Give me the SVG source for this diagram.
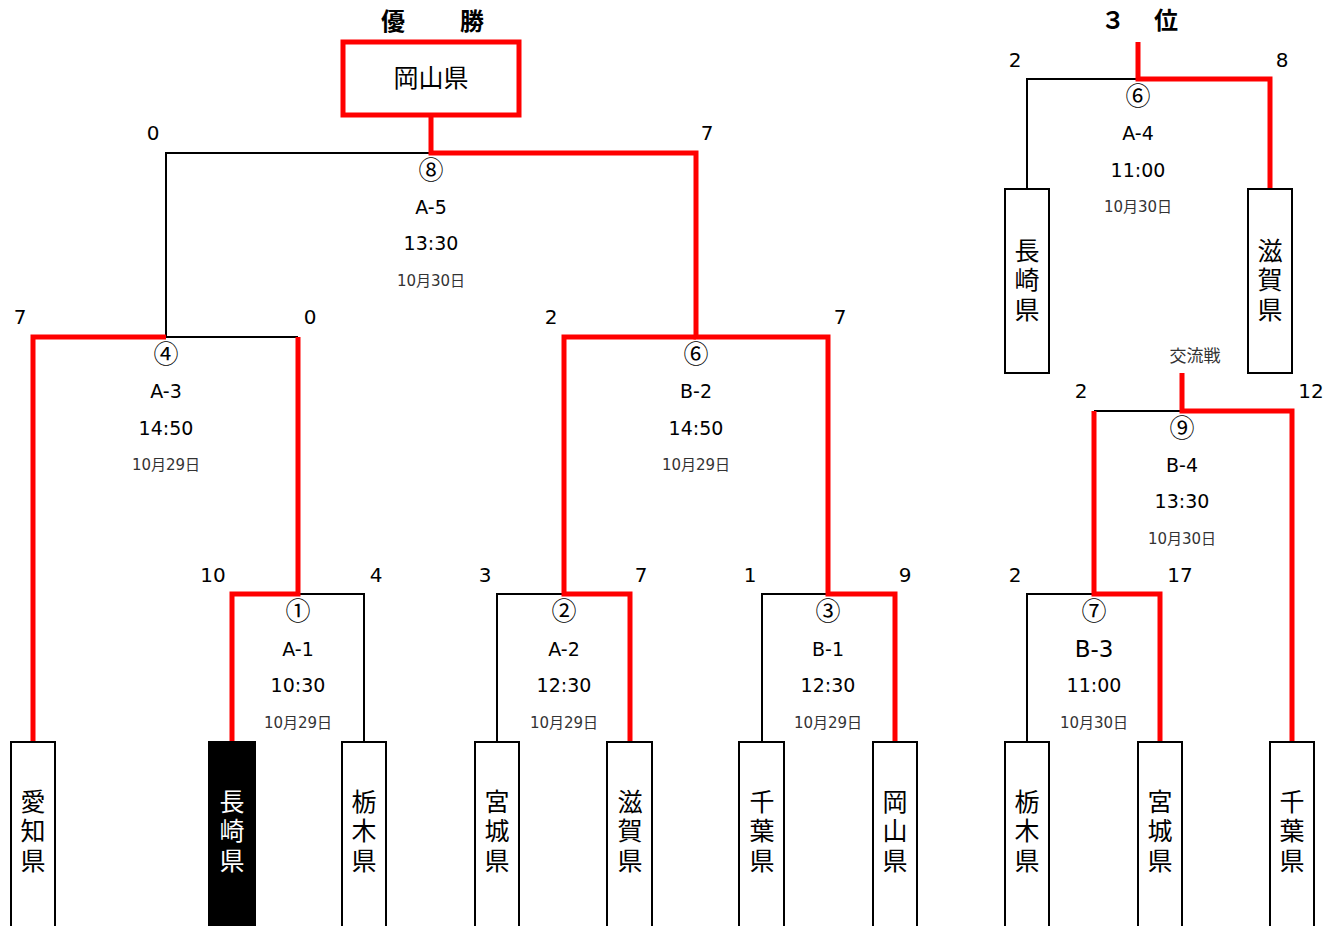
<svg xmlns="http://www.w3.org/2000/svg" width="1325" height="926" viewBox="0 0 1325 926">
<style>
.bk{fill:none;stroke:#000;stroke-width:2}
.rd{fill:none;stroke:#ff0000;stroke-width:5}
.box{fill:#fff;stroke:#000;stroke-width:2}
.t{font-family:"DejaVu Sans","Noto Sans CJK JP",sans-serif;fill:#000;text-anchor:middle}
.sc{font-size:20px}
.cn{font-size:25px;font-family:"Noto Sans CJK JP",sans-serif}
.mt{font-size:19px}
.dt{font-size:15px;fill:#333}
.nm{font-family:"Noto Sans CJK JP",sans-serif;font-size:25px;text-anchor:middle;fill:#000}
.v{writing-mode:vertical-rl;letter-spacing:4.5px}
.ttl{font-family:"Noto Sans CJK JP",sans-serif;font-size:24px;font-weight:bold;text-anchor:middle}
</style>
<rect width="1325" height="926" fill="#fff"/>
<g id="connectors">
<path class="bk" d="M166,337 V153 H431"/>
<path class="bk" d="M166,337 H298"/>
<path class="bk" d="M298,594 H364 V742"/>
<path class="bk" d="M497,742 V594 H564"/>
<path class="bk" d="M564,337 H696"/>
<path class="bk" d="M762,742 V594 H828"/>
<path class="bk" d="M1027,189 V79 H1138"/>
<path class="bk" d="M1094,411 H1182"/>
<path class="bk" d="M1027,742 V594 H1094"/>
<path class="rd" d="M431,115 V153 H696 V337 H828 V594 H895 V742"/>
<path class="rd" d="M696,337 H564 V594 H630 V742"/>
<path class="rd" d="M33,742 V337 H166"/>
<path class="rd" d="M298,337 V594 H232 V742"/>
<path class="rd" d="M1138,42 V79 H1270 V189"/>
<path class="rd" d="M1182,373 V411 H1292 V742"/>
<path class="rd" d="M1094,411 V594 H1160 V742"/>
</g>
<g id="champion">
<rect x="343" y="42" width="176" height="73" fill="#fff" stroke="#ff0000" stroke-width="5"/>
<text class="nm" x="431" y="87">岡山県</text>
</g>
<g id="titles">
<text class="ttl" x="393" y="30">優</text>
<text class="ttl" x="472" y="30">勝</text>
<text class="ttl" x="1113" y="29">３</text>
<text class="ttl" x="1166" y="29">位</text>
<text x="1195" y="362" style="font-size:17px;fill:#333;font-family:'Noto Sans CJK JP',sans-serif;text-anchor:middle">交流戦</text>
</g>
<g id="scores" class="t sc">
<text x="153" y="140">0</text>
<text x="707" y="140">7</text>
<text x="20" y="324">7</text>
<text x="310" y="324">0</text>
<text x="551" y="324">2</text>
<text x="840" y="324">7</text>
<text x="213" y="582">10</text>
<text x="376" y="582">4</text>
<text x="485" y="582">3</text>
<text x="641" y="582">7</text>
<text x="750" y="582">1</text>
<text x="905" y="582">9</text>
<text x="1015" y="582">2</text>
<text x="1180" y="582">17</text>
<text x="1081" y="398">2</text>
<text x="1311" y="398">12</text>
<text x="1015" y="67">2</text>
<text x="1282" y="67">8</text>
</g>
<g id="m8" class="t">
<text class="cn" x="431" y="179">⑧</text>
<text class="mt" x="431" y="214">A-5</text>
<text class="mt" x="431" y="250">13:30</text>
<text class="dt" x="431" y="286">10月30日</text>
</g>
<g id="m4" class="t">
<text class="cn" x="166" y="363">④</text>
<text class="mt" x="166" y="398">A-3</text>
<text class="mt" x="166" y="435">14:50</text>
<text class="dt" x="166" y="470">10月29日</text>
</g>
<g id="m6" class="t">
<text class="cn" x="696" y="363">⑥</text>
<text class="mt" x="696" y="398">B-2</text>
<text class="mt" x="696" y="435">14:50</text>
<text class="dt" x="696" y="470">10月29日</text>
</g>
<g id="m1" class="t">
<text class="cn" x="298" y="620">①</text>
<text class="mt" x="298" y="656">A-1</text>
<text class="mt" x="298" y="692">10:30</text>
<text class="dt" x="298" y="728">10月29日</text>
</g>
<g id="m2" class="t">
<text class="cn" x="564" y="620">②</text>
<text class="mt" x="564" y="656">A-2</text>
<text class="mt" x="564" y="692">12:30</text>
<text class="dt" x="564" y="728">10月29日</text>
</g>
<g id="m3" class="t">
<text class="cn" x="828" y="620">③</text>
<text class="mt" x="828" y="656">B-1</text>
<text class="mt" x="828" y="692">12:30</text>
<text class="dt" x="828" y="728">10月29日</text>
</g>
<g id="m6b" class="t">
<text class="cn" x="1138" y="105">⑥</text>
<text class="mt" x="1138" y="140">A-4</text>
<text class="mt" x="1138" y="177">11:00</text>
<text class="dt" x="1138" y="212">10月30日</text>
</g>
<g id="m9" class="t">
<text class="cn" x="1182" y="437">⑨</text>
<text class="mt" x="1182" y="472">B-4</text>
<text class="mt" x="1182" y="508">13:30</text>
<text class="dt" x="1182" y="544">10月30日</text>
</g>
<g id="m7" class="t">
<text class="cn" x="1094" y="620">⑦</text>
<text class="mt" x="1094" y="657" style="font-size:23px">B-3</text>
<text class="mt" x="1094" y="692">11:00</text>
<text class="dt" x="1094" y="728">10月30日</text>
</g>
<g id="team-aichi">
<rect class="box" x="11" y="742" width="44" height="200"/>
<text class="nm v" x="33" y="833">愛知県</text>
</g>
<g id="team-nagasaki">
<rect x="209" y="742" width="46" height="200" fill="#000" stroke="#000" stroke-width="2"/>
<text class="nm v" x="232" y="833" style="fill:#fff">長崎県</text>
</g>
<g id="team-tochigi">
<rect class="box" x="342" y="742" width="44" height="200"/>
<text class="nm v" x="364" y="833">栃木県</text>
</g>
<g id="team-miyagi">
<rect class="box" x="475" y="742" width="44" height="200"/>
<text class="nm v" x="497" y="833">宮城県</text>
</g>
<g id="team-shiga">
<rect class="box" x="607" y="742" width="45" height="200"/>
<text class="nm v" x="630" y="833">滋賀県</text>
</g>
<g id="team-chiba">
<rect class="box" x="739" y="742" width="45" height="200"/>
<text class="nm v" x="762" y="833">千葉県</text>
</g>
<g id="team-okayama">
<rect class="box" x="873" y="742" width="44" height="200"/>
<text class="nm v" x="895" y="833">岡山県</text>
</g>
<g id="team-tochigi2">
<rect class="box" x="1005" y="742" width="44" height="200"/>
<text class="nm v" x="1027" y="833">栃木県</text>
</g>
<g id="team-miyagi2">
<rect class="box" x="1138" y="742" width="44" height="200"/>
<text class="nm v" x="1160" y="833">宮城県</text>
</g>
<g id="team-chiba2">
<rect class="box" x="1270" y="742" width="44" height="200"/>
<text class="nm v" x="1292" y="833">千葉県</text>
</g>
<g id="team-nagasaki2">
<rect class="box" x="1005" y="189" width="44" height="184"/>
<text class="nm v" x="1027" y="282">長崎県</text>
</g>
<g id="team-shiga2">
<rect class="box" x="1248" y="189" width="44" height="184"/>
<text class="nm v" x="1270" y="282">滋賀県</text>
</g>
</svg>
